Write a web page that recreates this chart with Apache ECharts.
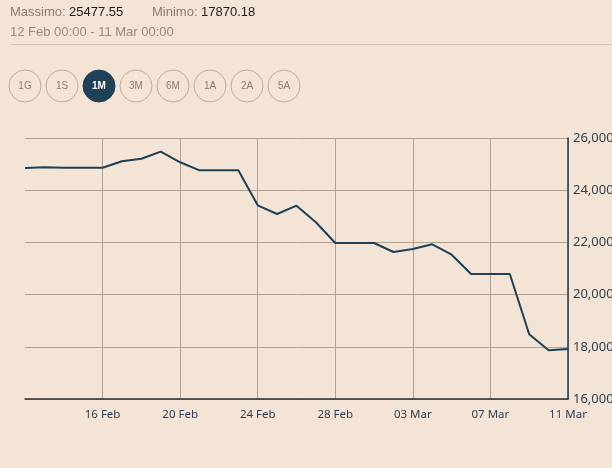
<!DOCTYPE html>
<html>
<head>
<meta charset="utf-8">
<script src="https://cdn.jsdelivr.net/npm/echarts@6/dist/echarts.min.js"></script>
<style>
html,body{margin:0;padding:0;background:#f4e4d6;}
#c{width:612px;height:468px;}
</style>
</head>
<body>
<div id="c"></div>
<script>
const categories = ['12 Feb','13 Feb','14 Feb','15 Feb','16 Feb','17 Feb','18 Feb','19 Feb','20 Feb','21 Feb','22 Feb','23 Feb','24 Feb','25 Feb','26 Feb','27 Feb','28 Feb','29 Feb','01 Mar','02 Mar','03 Mar','04 Mar','05 Mar','06 Mar','07 Mar','08 Mar','09 Mar','10 Mar','11 Mar'];
const values = [24851,24880,24862,24862,24862,25107,25207,25477.55,25069,24762,24762,24762,23421,23088,23406,22770,21977,21977,21977,21632,21747,21927,21529,20789,20789,20789,18479,17870.18,17916];
const yTicks = [16000,18000,20000,22000,24000,26000];
const buttons = ['1G','1S','1M','3M','6M','1A','2A','5A'];
const activeButton = '1M';
const maxLabel = '25477.55';
const minLabel = '17870.18';
const rangeLabel = '12 Feb 00:00 - 11 Mar 00:00';

const chart = echarts.init(document.getElementById('c'), null, {renderer:'canvas'});
const labelIdx = (i) => i > 0 && i % 4 === 0;
const hFont = '13px "Liberation Sans", Arial';

const graphics = [
  {type:'text', left:10, top:6, style:{text:'Massimo:', font:hFont, fill:'#8c7c6e'}},
  {type:'text', left:69, top:6, style:{text:maxLabel, font:hFont, fill:'#222'}},
  {type:'text', left:152, top:6, style:{text:'Minimo:', font:hFont, fill:'#8c7c6e'}},
  {type:'text', left:201, top:6, style:{text:minLabel, font:hFont, fill:'#222'}},
  {type:'text', left:10, top:26, style:{text:rangeLabel, font:hFont, fill:'#9a8a7c'}},
  {type:'line', shape:{x1:10,y1:44.5,x2:612,y2:44.5}, style:{stroke:'#d6c5b5', lineWidth:1}}
];
buttons.forEach((b,i)=>{
  const cx = 25 + i*37, cy = 86;
  const act = b === activeButton;
  graphics.push({type:'circle', shape:{cx:cx, cy:cy, r:16}, style:{fill: act ? '#1f4257' : 'none', stroke: act ? '#1f4257' : '#bcac9c', lineWidth:1}});
  graphics.push({type:'text', x:cx, y:cy, style:{text:b, font:(act?'bold ':'')+'10px "Liberation Sans", Arial', fill: act ? '#fff' : '#8c7c6e', align:'center', verticalAlign:'middle'}});
});

chart.setOption({
  backgroundColor:'#f4e4d6',
  animation:false,
  graphic: graphics,
  grid:{left:25, right:44, top:138, bottom:69, containLabel:false, outerBoundsMode:'none'},
  xAxis:{
    type:'category', data:categories, boundaryGap:false,
    axisLine:{show:true, lineStyle:{color:'#2c2c2c', width:1.5}},
    axisTick:{show:false},
    axisLabel:{interval:labelIdx, color:'#2e3f52', fontFamily:'"Noto Sans"', fontSize:11.5, margin:10},
    splitLine:{show:true, interval:labelIdx, lineStyle:{color:'#b3a293', width:1}}
  },
  yAxis:{
    type:'value', position:'right', min:16000, max:26000, interval:2000,
    axisLine:{show:true, lineStyle:{color:'#1f3a50', width:1.5}},
    axisTick:{show:false},
    axisLabel:{color:'#2e3f52', fontFamily:'"Noto Sans"', fontSize:13, margin:5,
      formatter:(v)=> yTicks.includes(v) ? v.toLocaleString('en-US') : ''},
    splitLine:{show:true, lineStyle:{color:'#b3a293', width:1}}
  },
  series:[{
    type:'line', data:values, showSymbol:false, symbol:'none',
    lineStyle:{color:'#1f3f55', width:2}
  }]
});
</script>
</body>
</html>
